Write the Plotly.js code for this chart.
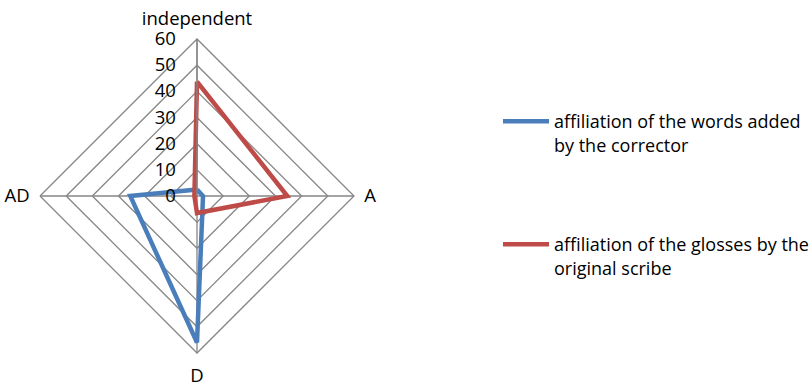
<!DOCTYPE html>
<html><head><meta charset="utf-8">
<script src="https://cdn.plot.ly/plotly-3.0.1.min.js"></script>
<style>html,body{margin:0;padding:0;background:#fff}#chart{width:812px;height:386px}</style>
</head><body><div id="chart"></div>
<script>
const categories = ["independent", "A", "D", "AD"];
const correctorValues = [2.5, 2.3, 56, 25.5];
const scribeValues = [43.7, 34.5, 6.5, 1];
const seriesNames = ["affiliation of the words added<br>by the corrector", "affiliation of the glosses by the<br>original scribe"];
const tickVals = [0, 10, 20, 30, 40, 50, 60];

function closed(a){ return a.concat([a[0]]); }
const FONT = "Open Sans, sans-serif";
const FS = 18.5;
const LFS = 18;

const traces = [
  {type:"scatterpolar", mode:"lines", r:closed(correctorValues), theta:closed(categories),
   name:seriesNames[0], line:{color:"#4A7EBB", width:4.5}, legend:"legend"},
  {type:"scatterpolar", mode:"lines", r:closed(scribeValues), theta:closed(categories),
   name:seriesNames[1], line:{color:"#BE4B48", width:4.5}, legend:"legend2"}
];

const layout = {
  width:812, height:386, margin:{l:0,r:0,t:0,b:0, autoexpand:false},
  paper_bgcolor:"#fff", font:{family:FONT, size:FS, color:"#000"},
  polar:{
    domain:{x:[40/812, 354/812], y:[33/386, 347/386]},
    bgcolor:"rgba(0,0,0,0)", gridshape:"linear",
    radialaxis:{range:[0,60], tickvals:tickVals, angle:90, tickangle:90, side:"counterclockwise",
      showline:true, linecolor:"#868686", linewidth:1.3, gridcolor:"#868686", gridwidth:1.3,
      ticks:"outside", ticklen:14, tickcolor:"rgba(0,0,0,0)", tickfont:{size:FS, family:FONT}},
    angularaxis:{rotation:90, direction:"clockwise", categoryarray:categories, type:"category",
      showline:true, linecolor:"#868686", linewidth:1.3, gridcolor:"#868686", gridwidth:1.3,
      ticks:"outside", ticklen:6, tickcolor:"rgba(0,0,0,0)", tickfont:{size:FS, family:FONT}}
  },
  showlegend:true,
  legend:{x:498/812, y:1-103/386, xanchor:"left", yanchor:"top", bgcolor:"rgba(0,0,0,0)",
    font:{size:LFS, family:FONT}, itemwidth:46, valign:"top"},
  legend2:{x:498/812, y:1-226/386, xanchor:"left", yanchor:"top", bgcolor:"rgba(0,0,0,0)",
    font:{size:LFS, family:FONT}, itemwidth:46, valign:"top"}
};
Plotly.newPlot("chart", traces, layout, {staticPlot:true});
</script></body></html>
